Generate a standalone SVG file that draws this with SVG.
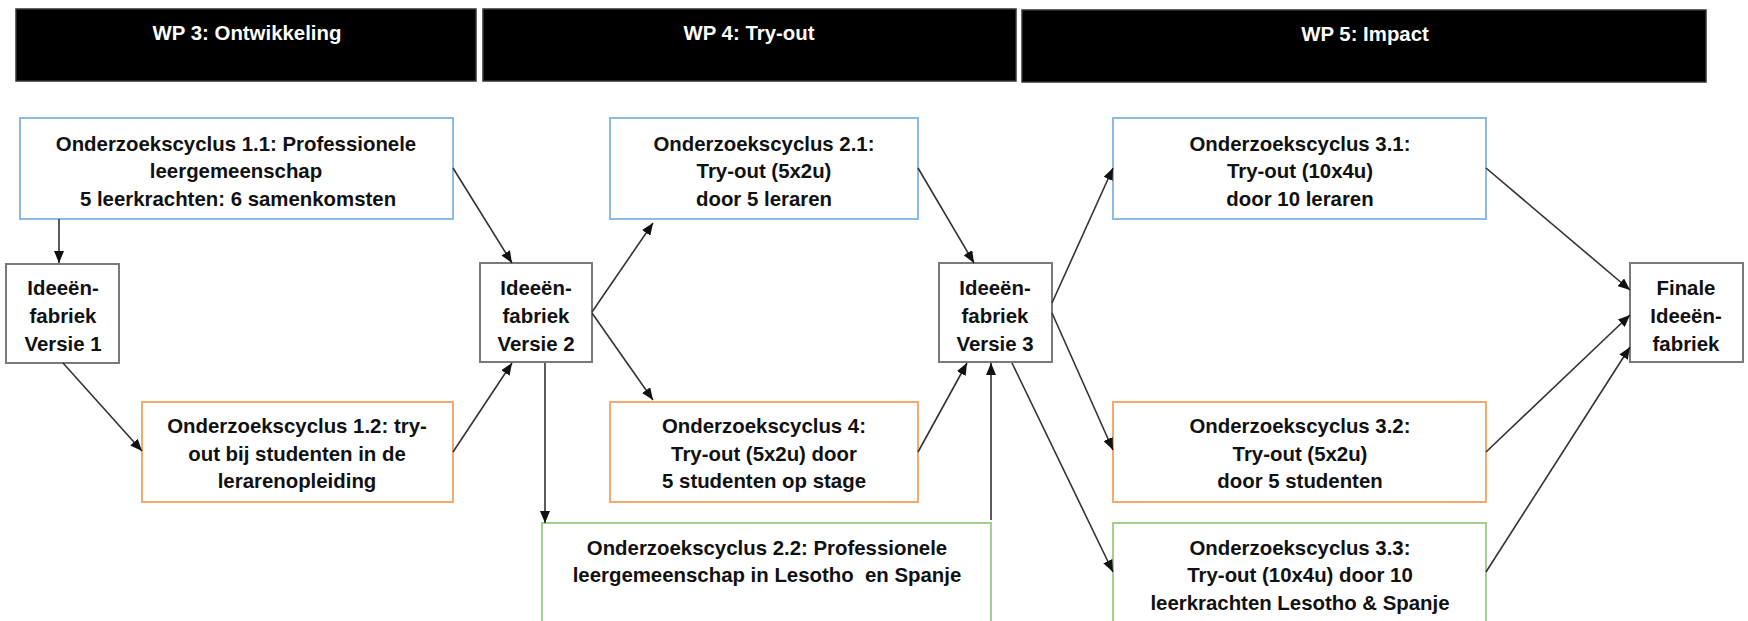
<svg xmlns="http://www.w3.org/2000/svg" width="1748" height="621" viewBox="0 0 1748 621">
<style>
text{font-family:"Liberation Sans",Arial,sans-serif;font-weight:bold;font-size:20.4px;fill:#111;text-anchor:middle}
.hdr rect{fill:#000;stroke:#333;stroke-width:1.5}
.hdr text{fill:#fff}
.blue{fill:#fff;stroke:#8dbbe8;stroke-width:2}
.orange{fill:#fff;stroke:#f5a96f;stroke-width:2}
.green{fill:#fff;stroke:#a3d08a;stroke-width:2}
.grey{fill:#fff;stroke:#7a7a7a;stroke-width:2}
#connectors line{stroke:#333;stroke-width:1.6;marker-end:url(#ah)}
</style>
<defs>
<marker id="ah" markerUnits="userSpaceOnUse" markerWidth="12" markerHeight="10" refX="12" refY="5" orient="auto">
<path d="M0,0 L12,5 L0,10 z" fill="#111"/>
</marker>
</defs>
<rect width="1748" height="621" fill="#fff"/>

<g id="wp3" class="hdr"><rect x="16" y="9" width="460" height="72"/><text x="247" y="40">WP 3: Ontwikkeling</text></g>
<g id="wp4" class="hdr"><rect x="483" y="9" width="533" height="72"/><text x="749" y="40">WP 4: Try-out</text></g>
<g id="wp5" class="hdr"><rect x="1022" y="10" width="684" height="72"/><text x="1365" y="41">WP 5: Impact</text></g>

<g id="oc11"><rect class="blue" x="20" y="118" width="433" height="101"/>
<text x="236" y="151">Onderzoekscyclus 1.1: Professionele</text>
<text x="236" y="178">leergemeenschap</text>
<text x="238" y="206">5 leerkrachten: 6 samenkomsten</text></g>

<g id="v1"><rect class="grey" x="6" y="264" width="113" height="99"/>
<text x="63" y="295">Ideeën-</text><text x="63" y="323">fabriek</text><text x="63" y="351">Versie 1</text></g>

<g id="oc12"><rect class="orange" x="142" y="402" width="311" height="100"/>
<text x="297" y="433">Onderzoekscyclus 1.2: try-</text>
<text x="297" y="461">out bij studenten in de</text>
<text x="297" y="488">lerarenopleiding</text></g>

<g id="v2"><rect class="grey" x="480" y="263" width="112" height="99"/>
<text x="536" y="295">Ideeën-</text><text x="536" y="323">fabriek</text><text x="536" y="351">Versie 2</text></g>

<g id="oc21"><rect class="blue" x="610" y="118" width="308" height="101"/>
<text x="764" y="151">Onderzoekscyclus 2.1:</text>
<text x="764" y="178">Try-out (5x2u)</text>
<text x="764" y="206">door 5 leraren</text></g>

<g id="oc4"><rect class="orange" x="610" y="402" width="308" height="100"/>
<text x="764" y="433">Onderzoekscyclus 4:</text>
<text x="764" y="461">Try-out (5x2u) door</text>
<text x="764" y="488">5 studenten op stage</text></g>

<g id="oc22"><rect class="green" x="542" y="523" width="449" height="110"/>
<text x="767" y="555">Onderzoekscyclus 2.2: Professionele</text>
<text x="767" y="582" xml:space="preserve">leergemeenschap in Lesotho  en Spanje</text></g>

<g id="v3"><rect class="grey" x="939" y="263" width="113" height="99"/>
<text x="995" y="295">Ideeën-</text><text x="995" y="323">fabriek</text><text x="995" y="351">Versie 3</text></g>

<g id="oc31"><rect class="blue" x="1113" y="118" width="373" height="101"/>
<text x="1300" y="151">Onderzoekscyclus 3.1:</text>
<text x="1300" y="178">Try-out (10x4u)</text>
<text x="1300" y="206">door 10 leraren</text></g>

<g id="oc32"><rect class="orange" x="1113" y="402" width="373" height="100"/>
<text x="1300" y="433">Onderzoekscyclus 3.2:</text>
<text x="1300" y="461">Try-out (5x2u)</text>
<text x="1300" y="488">door 5 studenten</text></g>

<g id="oc33"><rect class="green" x="1113" y="523" width="373" height="110"/>
<text x="1300" y="555">Onderzoekscyclus 3.3:</text>
<text x="1300" y="582">Try-out (10x4u) door 10</text>
<text x="1300" y="610">leerkrachten Lesotho &amp; Spanje</text></g>

<g id="finale"><rect class="grey" x="1630" y="263" width="113" height="99"/>
<text x="1686" y="295">Finale</text><text x="1686" y="323">Ideeën-</text><text x="1686" y="351">fabriek</text></g>

<g id="connectors">
<line x1="59" y1="219" x2="59" y2="263"/>
<line x1="453" y1="168" x2="512" y2="263"/>
<line x1="63" y1="363" x2="142" y2="451"/>
<line x1="453" y1="452" x2="512" y2="363"/>
<line x1="592" y1="312" x2="653" y2="223"/>
<line x1="592" y1="313" x2="653" y2="400"/>
<line x1="545" y1="363" x2="545" y2="523"/>
<line x1="918" y1="168" x2="974" y2="263"/>
<line x1="918" y1="452" x2="967" y2="363"/>
<line x1="991" y1="520" x2="991" y2="363"/>
<line x1="1052" y1="303" x2="1113" y2="168"/>
<line x1="1052" y1="313" x2="1113" y2="450"/>
<line x1="1012" y1="363" x2="1113" y2="572"/>
<line x1="1486" y1="168" x2="1630" y2="290"/>
<line x1="1486" y1="452" x2="1630" y2="315"/>
<line x1="1486" y1="572" x2="1630" y2="347"/>
</g>
</svg>
